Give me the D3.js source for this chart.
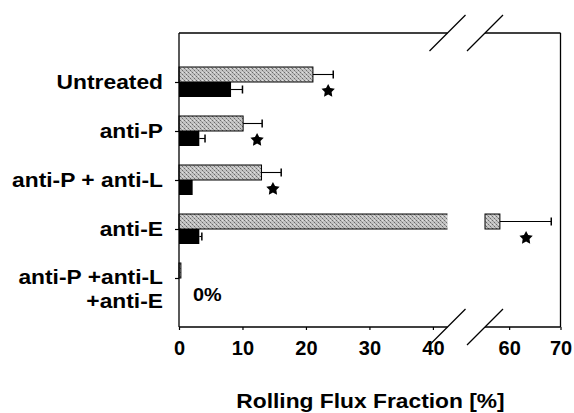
<!DOCTYPE html>
<html>
<head>
<meta charset="utf-8">
<script src="https://cdn.jsdelivr.net/npm/d3@7"></script>
<style>
  html, body { margin: 0; padding: 0; background: #fff; }
  svg { display: block; }
  text { font-family: "Liberation Sans", Arial, Helvetica, sans-serif; font-weight: bold; fill: #000; }
</style>
</head>
<body>
<svg id="chart" width="574" height="413"></svg>
<script>
// ---- data ----
const categories = ["Untreated", "anti-P", "anti-P + anti-L", "anti-E", "anti-P +anti-L|+anti-E"];
const grayValues = [21.1, 10.1, 13.0, 58.2, 0.3];
const grayErrors = [3.2, 3.0, 3.1, 10.0, 0];
const blackValues = [8.2, 3.2, 2.15, 3.2, 0];
const blackErrors = [1.8, 0.9, 0, 0.4, 0];
const starValues = [23.5, 12.3, 14.8, 63.3, null];
const lowTicks = [0, 10, 20, 30, 40];
const highTicks = [60, 70];
const breakStart = 42.3, breakEnd = 55.3, maxValue = 70;
const axisTitle = "Rolling Flux Fraction [%]";
const zeroNote = "0%";

(function () {
// ---- layout ----
const svg = d3.select("#chart");
const pLeft = 179, pRight = 560.5, pTop = 33, pBottom = 327;
const segEnd = 447.5, segStart = 485;

const x1 = d3.scaleLinear().domain([0, breakStart]).range([pLeft, segEnd]);
const x2 = d3.scaleLinear().domain([breakEnd, maxValue]).range([segStart, pRight]);
const xPos = v => (v <= breakStart ? x1(v) : x2(v));
const y = d3.scalePoint().domain(categories).range([pTop, pBottom]).padding(1);
const barH = 15;

// gray stipple pattern
const defs = svg.append("defs");
const pat = defs.append("pattern").attr("id", "stipple").attr("patternUnits", "userSpaceOnUse")
  .attr("width", 4).attr("height", 4);
pat.append("rect").attr("width", 4).attr("height", 4).attr("fill", "#c4c4c4");
[[0, 0, "#6a6a6a"], [2, 2, "#6a6a6a"], [1, 1, "#9a9a9a"], [3, 3, "#9a9a9a"], [2, 0, "#e0e0e0"]].forEach(([px, py, col]) =>
  pat.append("rect").attr("x", px).attr("y", py).attr("width", 1).attr("height", 1).attr("fill", col));

// fat five-point star
const starPts = d3.range(10).map(k => [k * Math.PI / 5, k % 2 === 0 ? 7 : 3.6]);
const starPath = d3.lineRadial().curve(d3.curveLinearClosed)(starPts);

// ---- bars ----
const g = svg.append("g");
categories.forEach((c, i) => {
  const cy = y(c);
  const gv = grayValues[i];
  if (gv > breakStart) {
    g.append("rect").attr("x", x1(0)).attr("y", cy - barH).attr("width", x1(breakStart) - x1(0))
      .attr("height", barH).attr("fill", "url(#stipple)");
    g.append("path").attr("d", `M${x1(breakStart)},${cy - barH}H${x1(0)}V${cy}H${x1(breakStart)}`)
      .attr("fill", "none").attr("stroke", "#000").attr("stroke-width", 1);
    g.append("rect").attr("x", x2(breakEnd)).attr("y", cy - barH).attr("width", x2(gv) - x2(breakEnd))
      .attr("height", barH).attr("fill", "url(#stipple)").attr("stroke", "#000").attr("stroke-width", 1);
  } else {
    g.append("rect").attr("x", x1(0)).attr("y", cy - barH).attr("width", x1(gv) - x1(0))
      .attr("height", barH).attr("fill", "url(#stipple)").attr("stroke", "#000").attr("stroke-width", 1);
  }
  const bv = blackValues[i];
  if (bv > 0) {
    g.append("rect").attr("x", x1(0)).attr("y", cy).attr("width", x1(bv) - x1(0))
      .attr("height", barH).attr("fill", "#000");
  }
  const errs = [[gv, grayErrors[i], cy - barH / 2], [bv, blackErrors[i], cy + barH / 2]];
  errs.forEach(([v, e, ey]) => {
    if (e > 0) {
      g.append("line").attr("x1", xPos(v)).attr("x2", xPos(v + e)).attr("y1", ey).attr("y2", ey)
        .attr("stroke", "#000").attr("stroke-width", 1.1);
      g.append("line").attr("x1", xPos(v + e)).attr("x2", xPos(v + e)).attr("y1", ey - 4).attr("y2", ey + 4)
        .attr("stroke", "#000").attr("stroke-width", 1.5);
    }
  });
  if (starValues[i] != null) {
    g.append("path").attr("d", starPath)
      .attr("transform", `translate(${xPos(starValues[i])},${cy + 9})`).attr("fill", "#000");
  }
});

// ---- frame ----
const frame = svg.append("g").attr("stroke", "#000").attr("stroke-width", 1.3).attr("fill", "none");
frame.append("line").attr("x1", pLeft).attr("x2", pLeft).attr("y1", pTop).attr("y2", pBottom);
frame.append("line").attr("x1", pRight).attr("x2", pRight).attr("y1", pTop).attr("y2", pBottom);
[pTop, pBottom].forEach(yy => {
  frame.append("line").attr("x1", pLeft).attr("x2", segEnd).attr("y1", yy).attr("y2", yy);
  frame.append("line").attr("x1", segStart).attr("x2", pRight).attr("y1", yy).attr("y2", yy);
  [segEnd, segStart].forEach(xx => {
    frame.append("line").attr("x1", xx - 18).attr("y1", yy + 18).attr("x2", xx + 18).attr("y2", yy - 18);
  });
});

// ---- x axes ----
function styleAxis(sel) {
  sel.select(".domain").remove();
  sel.selectAll(".tick line").attr("stroke", "#000").attr("stroke-width", 1.2);
  sel.selectAll(".tick text").attr("font-size", 20).attr("font-family", "Liberation Sans, Arial, sans-serif")
    .attr("font-weight", "bold").attr("fill", "#000");
}
svg.append("g").attr("transform", `translate(0,${pBottom})`)
  .call(d3.axisBottom(x1).tickValues(lowTicks).tickSize(3).tickPadding(11)).call(styleAxis);
svg.append("g").attr("transform", `translate(0,${pBottom})`)
  .call(d3.axisBottom(x2).tickValues(highTicks).tickSize(3).tickPadding(11)).call(styleAxis);

// ---- y axis ticks ----
svg.append("g").attr("transform", `translate(${pLeft},0)`)
  .call(d3.axisLeft(y).tickSize(4).tickFormat(""))
  .call(s => { s.select(".domain").remove(); s.selectAll(".tick line").attr("stroke", "#000").attr("stroke-width", 1.2); });

// ---- category labels ----
categories.forEach(c => {
  const lines = c.split("|");
  const cy = y(c);
  const t = svg.append("text").attr("text-anchor", "end").attr("font-size", 20)
    .attr("transform", `translate(163,${lines.length > 1 ? cy + 6 : cy + 7}) scale(1.14,1)`);
  lines.forEach((ln, k) => t.append("tspan").attr("x", 0).attr("dy", k === 0 ? 0 : 24).text(ln));
});

// ---- annotations ----
svg.append("text").attr("font-size", 18).attr("transform", `translate(193,301) scale(1.1,1)`).text(zeroNote);
svg.append("text").attr("font-size", 20).attr("text-anchor", "middle")
  .attr("transform", `translate(370.5,408) scale(1.14,1)`).text(axisTitle);
})();
</script>
</body>
</html>
